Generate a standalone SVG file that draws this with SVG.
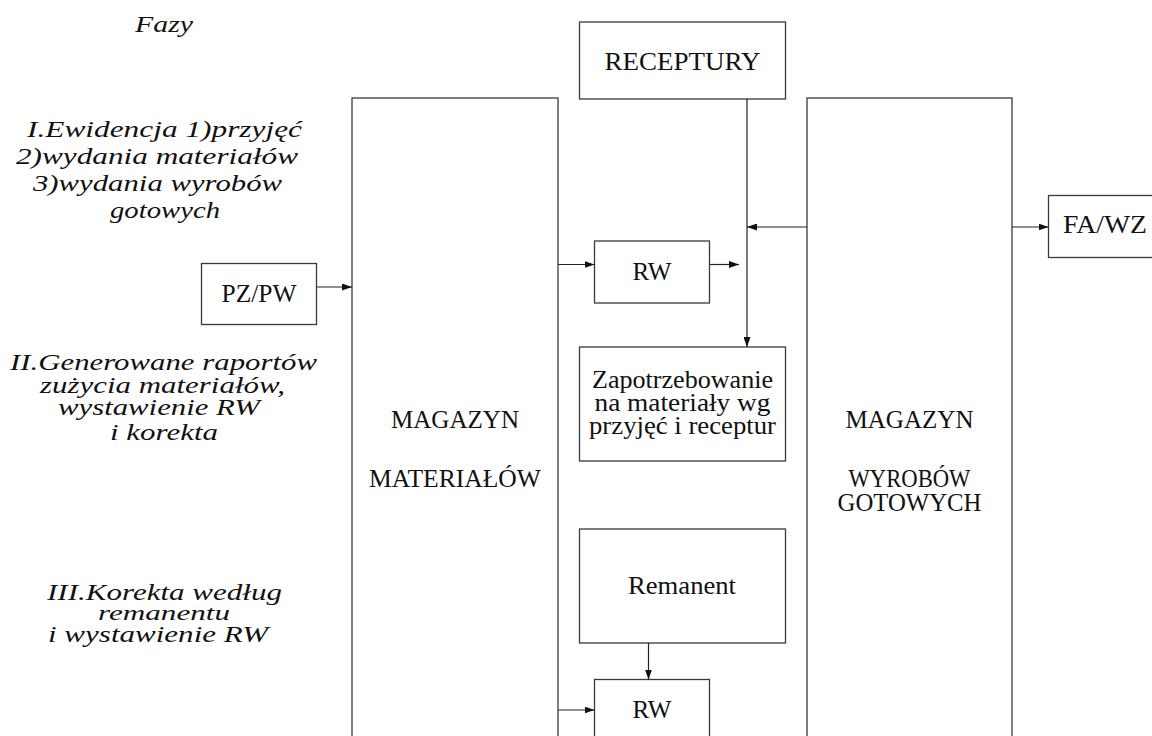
<svg xmlns="http://www.w3.org/2000/svg" width="1152" height="736" viewBox="0 0 1152 736">
<style>
.box{fill:#fff;stroke:#3a3a3a;stroke-width:1.3}
.con{fill:none;stroke:#222;stroke-width:1.2}
.t{font-family:"Liberation Serif","DejaVu Serif",serif;font-size:25px;fill:#111;text-anchor:middle}
.it{font-family:"Liberation Serif","DejaVu Serif",serif;font-size:24px;font-style:italic;fill:#111}
.it2{font-size:22px}
</style>
<defs>
<marker id="ah" viewBox="0 0 10 7" refX="10" refY="3.5" markerWidth="10" markerHeight="7" markerUnits="userSpaceOnUse" orient="auto">
<path d="M0,0 L10,3.5 L0,7 z" fill="#111"/>
</marker>
</defs>
<rect width="1152" height="736" fill="#fff"/>
<g id="phases">
<text class="it" x="135" y="32" textLength="58" lengthAdjust="spacingAndGlyphs">Fazy</text>
<text class="it" x="27" y="137" textLength="275" lengthAdjust="spacingAndGlyphs">I.Ewidencja 1)przyjęć</text>
<text class="it" x="16" y="164" textLength="282" lengthAdjust="spacingAndGlyphs">2)wydania materiałów</text>
<text class="it" x="33" y="191" textLength="249" lengthAdjust="spacingAndGlyphs">3)wydania wyrobów</text>
<text class="it" x="110" y="218" textLength="110" lengthAdjust="spacingAndGlyphs">gotowych</text>
<text class="it" x="10" y="370" textLength="307" lengthAdjust="spacingAndGlyphs">II.Generowane raportów</text>
<text class="it" x="40" y="393" textLength="245" lengthAdjust="spacingAndGlyphs">zużycia materiałów,</text>
<text class="it" x="58" y="415" textLength="202" lengthAdjust="spacingAndGlyphs">wystawienie RW</text>
<text class="it" x="110" y="440" textLength="108" lengthAdjust="spacingAndGlyphs">i korekta</text>
<text class="it" x="47" y="600" textLength="235" lengthAdjust="spacingAndGlyphs">III.Korekta według</text>
<text class="it it2" x="98" y="620" textLength="132" lengthAdjust="spacingAndGlyphs">remanentu</text>
<text class="it" x="48" y="642" textLength="220" lengthAdjust="spacingAndGlyphs">i wystawienie RW</text>
</g>
<g id="mag-mat">
<rect class="box" x="352" y="98" width="206" height="680"/>
<text class="t" x="455" y="428" textLength="128" lengthAdjust="spacingAndGlyphs">MAGAZYN</text>
<text class="t" x="455" y="487" textLength="172" lengthAdjust="spacingAndGlyphs">MATERIAŁÓW</text>
</g>
<g id="mag-wyr">
<rect class="box" x="807" y="98" width="205" height="680"/>
<text class="t" x="909.5" y="428" textLength="128" lengthAdjust="spacingAndGlyphs">MAGAZYN</text>
<text class="t" x="909.5" y="487" textLength="122" lengthAdjust="spacingAndGlyphs">WYROBÓW</text>
<text class="t" x="909.5" y="511" textLength="144" lengthAdjust="spacingAndGlyphs">GOTOWYCH</text>
</g>
<g id="receptury">
<rect class="box" x="579.5" y="22" width="206" height="77"/>
<text class="t" x="682.5" y="70" textLength="156" lengthAdjust="spacingAndGlyphs">RECEPTURY</text>
</g>
<g id="pzpw">
<rect class="box" x="201.5" y="263.5" width="115" height="61"/>
<text class="t" x="259" y="302" textLength="75" lengthAdjust="spacingAndGlyphs">PZ/PW</text>
</g>
<g id="fawz">
<rect class="box" x="1048.5" y="195.5" width="120" height="62"/>
<text class="t" x="1105" y="233" textLength="84" lengthAdjust="spacingAndGlyphs">FA/WZ</text>
</g>
<g id="rw1">
<rect class="box" x="594.5" y="241" width="115" height="62"/>
<text class="t" x="652" y="280" textLength="39" lengthAdjust="spacingAndGlyphs">RW</text>
</g>
<g id="zapotrzebowanie">
<rect class="box" x="579.5" y="347" width="206" height="114"/>
<text class="t" x="682.5" y="388" textLength="181" lengthAdjust="spacingAndGlyphs">Zapotrzebowanie</text>
<text class="t" x="682.5" y="411" textLength="176" lengthAdjust="spacingAndGlyphs">na materiały wg</text>
<text class="t" x="682.5" y="434" textLength="187" lengthAdjust="spacingAndGlyphs">przyjęć i receptur</text>
</g>
<g id="remanent">
<rect class="box" x="579.5" y="529" width="206" height="114"/>
<text class="t" x="682" y="594" textLength="108" lengthAdjust="spacingAndGlyphs">Remanent</text>
</g>
<g id="rw2">
<rect class="box" x="594.5" y="679.5" width="115" height="80"/>
<text class="t" x="652" y="718" textLength="39" lengthAdjust="spacingAndGlyphs">RW</text>
</g>
<g id="connectors">
<line class="con" x1="316.5" y1="287" x2="352" y2="287" marker-end="url(#ah)"/>
<line class="con" x1="558" y1="264.5" x2="594.5" y2="264.5" marker-end="url(#ah)"/>
<line class="con" x1="709.5" y1="264.5" x2="739" y2="264.5" marker-end="url(#ah)"/>
<line class="con" x1="747" y1="99" x2="747" y2="347" marker-end="url(#ah)"/>
<line class="con" x1="807" y1="227" x2="747" y2="227" marker-end="url(#ah)"/>
<line class="con" x1="1012" y1="227" x2="1048.5" y2="227" marker-end="url(#ah)"/>
<line class="con" x1="648.5" y1="643" x2="648.5" y2="679.5" marker-end="url(#ah)"/>
<line class="con" x1="558" y1="710" x2="594.5" y2="710" marker-end="url(#ah)"/>
</g>
</svg>
